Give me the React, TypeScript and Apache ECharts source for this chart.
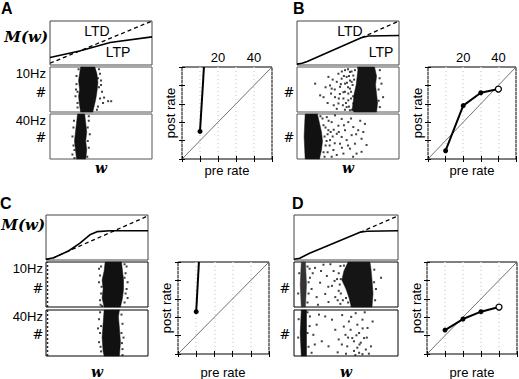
import React, { useEffect, useRef } from "react";
import * as echarts from "echarts";

// ---------- M(w) curves (w in [0,1], M in [0,1]) ----------
const mA_solid = [[0, 0.17], [0.29, 0.32], [0.59, 0.51], [1, 0.64]];
const mA_dashed = [[0, 0.04], [1, 1]];
const mB_solid = [[0, 0.02], [0.05, 0.04], [0.1, 0.08], [0.63, 0.62], [0.7, 0.66], [1, 0.67]];
const mB_dashed = [[0.63, 0.62], [1, 1]];
const mC_solid = [[0, 0.015], [0.075, 0.05], [0.22, 0.2], [0.33, 0.37], [0.43, 0.56], [0.5, 0.63], [0.63, 0.65], [1, 0.65]];
const mC_dashed = [[0, 0.015], [0.075, 0.05], [0.22, 0.2], [1, 0.98]];
const mD_solid = [[0, 0.015], [0.055, 0.04], [0.15, 0.15], [0.635, 0.615], [0.7, 0.64], [1, 0.65]];
const mD_dashed = [[0.635, 0.615], [1, 0.98]];

// ---------- weight distributions: dense bands (polygon outlines) ----------
const bandA10 = [[0.30, 0], [0.29, 0.15], [0.28, 0.35], [0.29, 0.5], [0.28, 0.7], [0.29, 0.85], [0.30, 1], [0.44, 1], [0.46, 0.85], [0.47, 0.65], [0.46, 0.45], [0.45, 0.3], [0.43, 0.1], [0.42, 0]];
const bandA40 = [[0.26, 0], [0.25, 0.2], [0.24, 0.4], [0.25, 0.6], [0.26, 0.8], [0.27, 1], [0.34, 1], [0.35, 0.8], [0.36, 0.6], [0.35, 0.4], [0.36, 0.2], [0.35, 0]];
const bandB10 = [[0.56, 0], [0.54, 0.05], [0.55, 0.2], [0.56, 0.4], [0.58, 0.6], [0.59, 0.8], [0.6, 1], [0.76, 1], [0.78, 0.8], [0.77, 0.6], [0.78, 0.4], [0.79, 0.2], [0.78, 0]];
const bandB40 = [[0.08, 0], [0.07, 0.5], [0.08, 1], [0.2, 1], [0.22, 0.8], [0.24, 0.6], [0.25, 0.4], [0.24, 0.2], [0.22, 0]];
const bandC10 = [[0.57, 0], [0.55, 0.2], [0.56, 0.4], [0.55, 0.6], [0.57, 0.8], [0.58, 1], [0.74, 1], [0.75, 0.8], [0.76, 0.6], [0.76, 0.4], [0.75, 0.2], [0.73, 0]];
const bandC40 = [[0.57, 0], [0.56, 0.1], [0.55, 0.4], [0.56, 0.7], [0.57, 1], [0.72, 1], [0.71, 0.85], [0.72, 0.6], [0.73, 0.3], [0.72, 0]];
const bandD10a = [[0.07, 0], [0.06, 0.5], [0.07, 1], [0.11, 1], [0.12, 0.5], [0.11, 0]];
const bandD10b = [[0.55, 0], [0.53, 0.2], [0.5, 0.4], [0.46, 0.6], [0.48, 0.8], [0.52, 1], [0.73, 1], [0.74, 0.85], [0.75, 0.6], [0.76, 0.3], [0.75, 0]];
const bandD40 = [[0.07, 0], [0.06, 0.5], [0.07, 1], [0.12, 1], [0.12, 0.5], [0.12, 0]];

// ---------- weight distributions: sparse individual synapses ----------
const dotsA10 = [[0.26, 0.62], [0.27, 0.45], [0.25, 0.35], [0.27, 0.2], [0.26, 0.8], [0.49, 0.85], [0.5, 0.6], [0.51, 0.45], [0.49, 0.3], [0.52, 0.2], [0.57, 0.24], [0.6, 0.24], [0.48, 0.95],
  [0.27, 0.1], [0.28, 0.95], [0.47, 0.75], [0.48, 0.55], [0.47, 0.12], [0.46, 0.05], [0.53, 0.32], [0.5, 0.7], [0.255, 0.5]];
const dotsA40 = [[0.22, 0.5], [0.23, 0.3], [0.22, 0.1], [0.23, 0.7], [0.38, 0.85], [0.39, 0.55], [0.38, 0.25],
  [0.235, 0.85], [0.24, 0.2], [0.37, 0.7], [0.37, 0.4], [0.365, 0.05], [0.24, 0.02], [0.38, 0.95]];
const dotsB10 = [[0.178, 0.63], [0.227, 0.37], [0.26, 0.33], [0.308, 0.78], [0.324, 0.59], [0.334, 0.41], [0.34, 0.52], [0.373, 0.33], [0.39, 0.67], [0.406, 0.85], [0.422, 0.56], [0.438, 0.74], [0.455, 0.44], [0.455, 0.3], [0.471, 0.93], [0.471, 0.63], [0.487, 0.78], [0.503, 0.41], [0.503, 0.26], [0.519, 0.89], [0.519, 0.52], [0.536, 0.67], [0.552, 0.19], [0.552, 0.81], [0.568, 0.37], [0.568, 0.93], [0.406, 0.19], [0.39, 0.07], [0.487, 0.11], [0.519, 0.04], [0.812, 0.93], [0.828, 0.63], [0.844, 0.33], [0.812, 0.11], [0.52, 0.7], [0.53, 0.45], [0.5, 0.55], [0.48, 0.2], [0.45, 0.15], [0.42, 0.4], [0.5, 0.95], [0.44, 0.9],
  [0.53, 0.3], [0.545, 0.6], [0.51, 0.8], [0.535, 0.9], [0.49, 0.65], [0.47, 0.45], [0.46, 0.8], [0.51, 0.12], [0.54, 0.05], [0.43, 0.62], [0.41, 0.3], [0.37, 0.5], [0.35, 0.72], [0.3, 0.2], [0.28, 0.55], [0.36, 0.15], [0.47, 0.05], [0.56, 0.72], [0.55, 0.35], [0.8, 0.5], [0.81, 0.75], [0.8, 0.25], [0.6, 0.98]];
const dotsB40 = [[0.292, 0.93], [0.308, 0.64], [0.324, 0.42], [0.34, 0.82], [0.357, 0.2], [0.373, 0.97], [0.39, 0.56], [0.406, 0.74], [0.422, 0.34], [0.438, 0.89], [0.455, 0.12], [0.471, 0.64], [0.487, 0.42], [0.503, 0.82], [0.519, 0.23], [0.536, 0.53], [0.552, 0.71], [0.568, 0.34], [0.584, 0.12], [0.6, 0.64], [0.633, 0.45], [0.666, 0.78], [0.682, 0.31], [0.633, 0.16], [0.39, 0.09], [0.438, 0.49], [0.27, 0.5], [0.28, 0.3], [0.26, 0.75], [0.3, 0.15], [0.29, 0.4], [0.31, 0.85], [0.27, 0.05], [0.33, 0.6],
  [0.25, 0.9], [0.26, 0.15], [0.28, 0.7], [0.3, 0.55], [0.32, 0.3], [0.34, 0.05], [0.35, 0.5], [0.37, 0.35], [0.36, 0.65], [0.41, 0.6], [0.44, 0.25], [0.46, 0.75], [0.5, 0.3], [0.53, 0.9], [0.55, 0.05], [0.58, 0.55], [0.62, 0.85], [0.65, 0.6], [0.23, 0.95], [0.21, 0.02]];
const dotsC10 = [[0.53, 0.7], [0.52, 0.55], [0.54, 0.3], [0.53, 0.15], [0.52, 0.85], [0.78, 0.75], [0.8, 0.55], [0.79, 0.4], [0.77, 0.1], [0.79, 0.9],
  [0.54, 0.9], [0.545, 0.45], [0.55, 0.02], [0.77, 0.65], [0.78, 0.3], [0.77, 0.95], [0.8, 0.2], [0.535, 0.05]];
const dotsC40 = [[0.52, 0.8], [0.53, 0.5], [0.52, 0.3], [0.54, 0.1], [0.51, 0.6], [0.75, 0.7], [0.76, 0.4], [0.75, 0.15],
  [0.53, 0.95], [0.535, 0.2], [0.54, 0.65], [0.74, 0.9], [0.74, 0.5], [0.75, 0.02], [0.745, 0.28]];
const dotsD10 = [[0.153, 0.65], [0.169, 0.4], [0.202, 0.87], [0.218, 0.22], [0.251, 0.54], [0.283, 0.94], [0.3, 0.29], [0.316, 0.69], [0.332, 0.11], [0.365, 0.47], [0.381, 0.8], [0.397, 0.22], [0.414, 0.62], [0.43, 0.36], [0.446, 0.91], [0.446, 0.07], [0.837, 0.65], [0.788, 0.4], [0.772, 0.83], [0.14, 0.3], [0.15, 0.85], [0.43, 0.75], [0.44, 0.5], [0.42, 0.15],
  [0.13, 0.1], [0.14, 0.55], [0.18, 0.75], [0.23, 0.05], [0.26, 0.8], [0.33, 0.45], [0.35, 0.95], [0.39, 0.58], [0.45, 0.3], [0.47, 0.15], [0.48, 0.92], [0.5, 0.2], [0.52, 0.1], [0.45, 0.62], [0.77, 0.55], [0.78, 0.15], [0.04, 0.3], [0.05, 0.75], [0.13, 0.9]];
const dotsD40 = [[0.153, 0.86], [0.186, 0.46], [0.218, 0.68], [0.332, 0.21], [0.365, 0.79], [0.397, 0.57], [0.43, 0.36], [0.463, 0.89], [0.479, 0.64], [0.495, 0.46], [0.512, 0.21], [0.528, 0.75], [0.544, 0.57], [0.56, 0.39], [0.577, 0.11], [0.593, 0.93], [0.609, 0.68], [0.626, 0.5], [0.642, 0.29], [0.658, 0.79], [0.674, 0.39], [0.691, 0.14], [0.707, 0.61], [0.74, 0.21], [0.756, 0.75], [0.626, 0.07], [0.658, 0.04], [0.577, 0.32], [0.609, 0.18], [0.267, 0.32], [0.169, 0.07], [0.3, 0.86],
  [0.13, 0.5], [0.14, 0.2], [0.15, 0.65], [0.13, 0.95], [0.2, 0.25], [0.24, 0.9], [0.42, 0.08], [0.46, 0.25], [0.52, 0.4], [0.55, 0.85], [0.6, 0.45], [0.63, 0.25], [0.66, 0.6], [0.7, 0.4], [0.72, 0.05], [0.68, 0.95], [0.59, 0.02], [0.5, 0.05], [0.04, 0.4], [0.045, 0.8]];
// column of synapses at w = 0 (panels C)
const zeroColumn = [[0.015, 0], [0.015, 1]];

// ---------- post rate vs pre rate (Hz) ----------
const topLabels = [20, 40];
const rateA = [[10, 15], [12.2, 50]];
const rateB = [[10, 4.5], [20, 29], [30, 36], [40, 38]];
const rateC = [[10, 23], [11.5, 50]];
const rateD = [[10, 13], [20, 19], [30, 23], [40, 25.5]];
const diagonal = [[0, 0], [50, 50]];

const SANS = "Liberation Sans";
const SERIF = "DejaVu Serif";

type Box = [number, number, number, number];

export default function App() {
  const ref = useRef<HTMLDivElement>(null);

  useEffect(() => {
    if (!ref.current) return;
    const chart = echarts.init(ref.current, undefined, { renderer: "svg" });

    const grids: any[] = [];
    const xAxes: any[] = [];
    const yAxes: any[] = [];
    const series: any[] = [];

    const addPlainGrid = (box: Box, border: string) => {
      const gi = grids.length;
      grids.push({ left: box[0], top: box[1], width: box[2], height: box[3], show: true, borderColor: border, borderWidth: 1, backgroundColor: "#fff" });
      xAxes.push({ gridIndex: gi, type: "value", min: 0, max: 1, show: false });
      yAxes.push({ gridIndex: gi, type: "value", min: 0, max: 1, show: false });
      return { gi, xi: xAxes.length - 1, yi: yAxes.length - 1 };
    };

    const addM = (box: Box, solid: number[][], dashed: number[][]) => {
      const g = addPlainGrid(box, "#444");
      series.push({ type: "line", xAxisIndex: g.xi, yAxisIndex: g.yi, data: dashed, symbol: "none", lineStyle: { color: "#000", width: 1.3, type: [4, 3] } });
      series.push({ type: "line", xAxisIndex: g.xi, yAxisIndex: g.yi, data: solid, symbol: "none", lineStyle: { color: "#000", width: 1.6 } });
    };

    const bandSeries = (xi: number, yi: number, band: number[][], fill: string) => ({
      type: "custom",
      xAxisIndex: xi,
      yAxisIndex: yi,
      data: band,
      encode: { x: 0, y: 1 },
      renderItem: (params: any, api: any) => {
        if (params.dataIndex !== 0) return null;
        const pts = band.map((p) => api.coord(p));
        return { type: "polygon", shape: { points: pts }, style: { fill, stroke: fill, lineWidth: 0.5 } };
      },
    });

    const addHist = (box: Box, border: string, bands: number[][][], dots: number[][], zero: boolean, fills: string[]) => {
      const g = addPlainGrid(box, border);
      bands.forEach((b, i) => series.push(bandSeries(g.xi, g.yi, b, fills[i] || "#111")));
      series.push({ type: "scatter", xAxisIndex: g.xi, yAxisIndex: g.yi, data: dots, symbol: "rect", symbolSize: 2, itemStyle: { color: "#111" } });
      if (zero) {
        series.push({ type: "line", xAxisIndex: g.xi, yAxisIndex: g.yi, data: zeroColumn, symbol: "none", lineStyle: { color: "#222", width: 1.5, type: [2, 2] } });
      }
    };

    const addRate = (box: Box, data: any[], showTop: boolean) => {
      const gi = grids.length;
      grids.push({ left: box[0], top: box[1], width: box[2], height: box[3], show: true, borderColor: "#000", borderWidth: 1 });
      const tick = { inside: true, length: 3, lineStyle: { color: "#000", width: 1 } };
      const xb = xAxes.length;
      xAxes.push({
        gridIndex: gi, type: "value", min: 0, max: 50, interval: 10, position: "bottom",
        axisLine: { show: false }, axisTick: tick, axisLabel: { show: false },
        splitLine: { show: true, lineStyle: { color: "#d8d8d8", type: [1, 3], width: 1.5 } },
      });
      xAxes.push({
        gridIndex: gi, type: "value", min: 0, max: 50, interval: 10, position: "top",
        axisLine: { show: false }, axisTick: tick, splitLine: { show: false },
        axisLabel: {
          show: showTop, margin: 3, fontSize: 13, color: "#000", fontFamily: SANS,
          formatter: (v: number) => (topLabels.includes(v) ? String(v) : ""),
        },
      });
      const yl = yAxes.length;
      yAxes.push({ gridIndex: gi, type: "value", min: 0, max: 50, interval: 10, position: "left", axisLine: { show: false }, axisTick: tick, axisLabel: { show: false }, splitLine: { show: false } });
      yAxes.push({ gridIndex: gi, type: "value", min: 0, max: 50, interval: 10, position: "right", axisLine: { show: false }, axisTick: tick, axisLabel: { show: false }, splitLine: { show: false } });
      series.push({ type: "line", xAxisIndex: xb, yAxisIndex: yl, data: diagonal, symbol: "none", lineStyle: { color: "#333", width: 0.7 } });
      series.push({ type: "line", xAxisIndex: xb, yAxisIndex: yl, data, symbol: "circle", symbolSize: 5, clip: true, lineStyle: { color: "#000", width: 2 }, itemStyle: { color: "#000" } });
    };

    const styled = (pts: number[][], openLast: boolean, hideLast: boolean) =>
      pts.map((p, i) => {
        if (i === pts.length - 1 && hideLast) return { value: p, symbol: "none" };
        if (i === pts.length - 1 && openLast)
          return { value: p, symbolSize: 6, itemStyle: { color: "#fff", borderColor: "#000", borderWidth: 1.3 } };
        return { value: p };
      });

    // Panel A
    addM([50, 21, 102, 44], mA_solid, mA_dashed);
    addHist([50, 67, 102, 45], "#555", [bandA10], dotsA10, false, ["#111"]);
    addHist([50, 114, 102, 45], "#555", [bandA40], dotsA40, false, ["#111"]);
    addRate([182, 67, 90, 92], styled(rateA, false, true), true);
    // Panel B
    addM([297, 21, 102, 44], mB_solid, mB_dashed);
    addHist([297, 67, 102, 45], "#555", [bandB10], dotsB10, false, ["#151515"]);
    addHist([297, 114, 102, 45], "#555", [bandB40], dotsB40, false, ["#111"]);
    addRate([428, 67, 89, 92], styled(rateB, true, false), true);
    // Panel C
    addM([46, 215, 102, 45], mC_solid, mC_dashed);
    addHist([46, 262, 102, 45], "#000", [bandC10], dotsC10, true, ["#111"]);
    addHist([46, 310, 102, 46], "#000", [bandC40], dotsC40, true, ["#111"]);
    addRate([178, 262, 91, 92], styled(rateC, false, true), false);
    // Panel D
    addM([294, 215, 104, 45], mD_solid, mD_dashed);
    addHist([294, 262, 104, 45], "#000", [bandD10a, bandD10b], dotsD10, false, ["#333", "#151515"]);
    addHist([294, 310, 104, 46], "#000", [bandD40], dotsD40, false, ["#111"]);
    addRate([427, 262, 90, 92], styled(rateD, true, false), false);

    const txt = (x: number, y: number, text: string, o: any = {}) => ({
      type: "text", x, y, rotation: o.rotation || 0,
      style: {
        text, fill: "#000", fontSize: o.size || 13, fontFamily: o.family || SANS,
        fontWeight: o.weight || "normal", fontStyle: o.italic ? "italic" : "normal",
        textAlign: o.align || "center", textVerticalAlign: "middle",
      },
    });
    const letter = (x: number, y: number, t: string) => txt(x, y, t, { size: 16, weight: "bold", align: "left" });
    const Mw = (x: number, y: number) => txt(x, y, "M(w)", { family: SERIF, weight: "bold", italic: true, size: 15, align: "right" });
    const wlab = (x: number, y: number) => txt(x, y, "w", { family: SERIF, weight: "bold", italic: true, size: 14 });
    const hash = (x: number, y: number) => txt(x, y, "#", { family: SERIF, size: 13 });
    const post = (x: number, y: number) => txt(x, y, "post rate", { rotation: Math.PI / 2 });

    const graphic: any[] = [
      letter(1, 8, "A"), letter(293, 8, "B"), letter(0, 203, "C"), letter(292, 203, "D"),
      Mw(48, 37), txt(46, 73, "10Hz", { align: "right" }), hash(41, 92), txt(46, 120, "40Hz", { align: "right" }), hash(41, 137),
      wlab(101, 168), post(170, 113), txt(227, 170, "pre rate"),
      txt(97, 31, "LTD", { size: 14 }), txt(118, 52, "LTP", { size: 14 }),
      hash(289, 92), hash(289, 137), wlab(348, 168), post(417, 113), txt(472, 170, "pre rate"),
      txt(350, 31, "LTD", { size: 14 }), txt(381, 52, "LTP", { size: 14 }),
      Mw(45, 225), txt(43, 268, "10Hz", { align: "right" }), hash(38, 288), txt(43, 316, "40Hz", { align: "right" }), hash(38, 334),
      wlab(97, 372), post(166, 308), txt(223, 372, "pre rate"),
      hash(285, 288), hash(285, 334), wlab(346, 372), post(416, 308), txt(472, 372, "pre rate"),
    ];

    chart.setOption({
      animation: false,
      backgroundColor: "#fff",
      grid: grids,
      xAxis: xAxes,
      yAxis: yAxes,
      series,
      graphic,
    });
    return () => chart.dispose();
  }, []);

  return <div ref={ref} style={{ position: "absolute", left: 0, top: 0, width: 519, height: 379 }} />;
}
